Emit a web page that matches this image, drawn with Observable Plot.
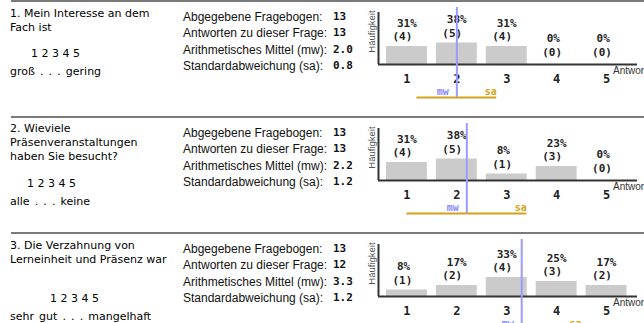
<!DOCTYPE html>
<html><head><meta charset="utf-8">
<script src="https://cdn.jsdelivr.net/npm/d3@7"></script>
<script src="https://cdn.jsdelivr.net/npm/@observablehq/plot@0.6"></script>
<style>
html,body{margin:0;padding:0;background:#fff;}
#root{position:relative;width:644px;height:323px;overflow:hidden;}
.abs{position:absolute;white-space:pre;}
.q{font-family:"DejaVu Sans",Verdana,sans-serif;font-size:11px;line-height:14px;color:#000;}
.sc{word-spacing:1.6px;}
.st{font-family:"Liberation Sans",Arial,sans-serif;font-size:12px;color:#111;line-height:16px;}
.sv{font-family:"DejaVu Sans Mono",monospace;font-weight:bold;font-size:11px;color:#111;line-height:16px;}
.sep{position:absolute;height:2px;background:#7a7a7a;}
</style></head>
<body><div id="root"></div>
<script>
// ---- data ----
const questionLines = [
  ["1. Mein Interesse an dem", "Fach ist"],
  ["2. Wieviele", "Präsenveranstaltungen", "haben Sie besucht?"],
  ["3. Die Verzahnung von", "Lerneinheit und Präsenz war"]
];
const scaleDigits = "1 2 3 4 5";
const scaleLabels = ["groß . . . gering", "alle . . . keine", "sehr gut . . . mangelhaft"];
const statLabels = ["Abgegebene Fragebogen:", "Antworten zu dieser Frage:", "Arithmetisches Mittel (mw):", "Standardabweichung (sa):"];
const abgegeben = [13, 13, 13];
const antworten = [13, 13, 12];
const mwValues = [2.0, 2.2, 3.3];
const saValues = [0.8, 1.2, 1.2];
const answers = [1, 2, 3, 4, 5];
const counts = [[4, 5, 4, 0, 0], [4, 5, 1, 3, 0], [1, 2, 4, 3, 2]];
const percents = [[31, 38, 31, 0, 0], [31, 38, 8, 23, 0], [8, 17, 33, 25, 17]];
const yLabel = "Häufigkeit";
const xLabel = "Antwort";

// ---- layout ----
const panelTop = [0, 116, 232];
const layout = [
  {qTop: 7, digitsY: 47, digitsX: 31, scaleY: 65},
  {qTop: 6, digitsY: 61, digitsX: 27, scaleY: 79},
  {qTop: 7, digitsY: 60, digitsX: 50, scaleY: 78}
];
const root = document.getElementById("root");
function addDiv(cls, x, y, text) {
  const d = document.createElement("div");
  d.className = "abs " + cls;
  d.style.left = x + "px"; d.style.top = y + "px";
  d.textContent = text;
  root.appendChild(d);
  return d;
}
const mono = "DejaVu Sans Mono, monospace";
panelTop.forEach((T, i) => {
  const sep = document.createElement("div");
  sep.className = "sep";
  sep.style.left = "11px"; sep.style.width = "633px"; sep.style.top = T + "px";
  root.appendChild(sep);
  const L = layout[i];
  addDiv("q", 10, T + L.qTop, questionLines[i].join("\n"));
  addDiv("q", L.digitsX, T + L.digitsY, scaleDigits);
  addDiv("q sc", 10, T + L.scaleY, scaleLabels[i]);
  const vals = [String(abgegeben[i]), String(antworten[i]), mwValues[i].toFixed(1), saValues[i].toFixed(1)];
  statLabels.forEach((s, k) => {
    addDiv("st", 183, T + 9 + k * 16.3, s);
    addDiv("sv", 333, T + 9 + k * 16.3, vals[k]);
  });

  const bars = answers.map((a, j) => ({a, pct: percents[i][j], n: counts[i][j]}));
  const stat = [{mw: mwValues[i], sa: saValues[i]}];
  const xMin = 0.43, xMax = 5.62;
  const chart = Plot.plot({
    width: 284, height: 116,
    marginLeft: 18, marginRight: 7, marginTop: 12, marginBottom: 52,
    x: {type: "linear", domain: [xMin, xMax], axis: null},
    y: {domain: [0, 104], axis: null},
    style: {background: "transparent", overflow: "visible"},
    marks: [
      Plot.rectY(bars.filter(d => d.pct > 0), {x1: d => d.a - 0.41, x2: d => d.a + 0.41, y1: 0, y2: "pct", fill: "#cbcbcb", insetTop: -2.5}),
      Plot.text(bars, {x: "a", y: "pct", text: d => d.pct + "%", textAnchor: "start", dx: -10, dy: -26, fontFamily: mono, fontWeight: "bold", fontSize: 11, fill: "#222"}),
      Plot.text(bars, {x: "a", y: "pct", text: d => "(" + d.n + ")", textAnchor: "start", dx: -14.5, dy: -12.5, fontFamily: mono, fontWeight: "bold", fontSize: 11, fill: "#222"}),
      Plot.ruleX([xMin], {stroke: "#333", strokeWidth: 2}),
      Plot.ruleY([0], {stroke: "#333", strokeWidth: 2}),
      Plot.axisX({ticks: answers, tickSize: 0, tickPadding: 10, tickFormat: d => String(d), fontFamily: mono, fontWeight: "bold", fontSize: 12, fill: "#222"}),
      Plot.text([xLabel], {x: 5, y: 0, text: d => d, textAnchor: "start", dx: 6.5, dy: 6, fontFamily: "Liberation Sans, Arial, sans-serif", fontSize: 10, fill: "#333"}),
      Plot.text([yLabel], {frameAnchor: "left", text: d => d, rotate: -90, textAnchor: "middle", dx: -7, dy: -7, fontFamily: "Liberation Sans, Arial, sans-serif", fontSize: 9.5, fill: "#555"}),
      Plot.ruleY(stat, {x1: d => d.mw - d.sa, x2: d => d.mw + d.sa, y: () => 0, dy: 33, stroke: "#d4a21a", strokeWidth: 2}),
      Plot.ruleX(stat, {x: "mw", stroke: "#9a9aff", strokeWidth: 2, insetTop: -5, insetBottom: -33}),
      Plot.text(stat, {x: "mw", y: () => 0, text: () => "mw", textAnchor: "end", dx: -8, dy: 27, fontFamily: mono, fontWeight: "bold", fontSize: 10, fill: "#8c8cff"}),
      Plot.text(stat, {x: d => d.mw + d.sa, y: () => 0, text: () => "sa", textAnchor: "end", dy: 27, fontFamily: mono, fontWeight: "bold", fontSize: 10, fill: "#d4a21a"})
    ]
  });
  chart.style.position = "absolute";
  chart.style.left = "360px";
  chart.style.top = T + "px";
  root.appendChild(chart);
});
</script></body></html>
